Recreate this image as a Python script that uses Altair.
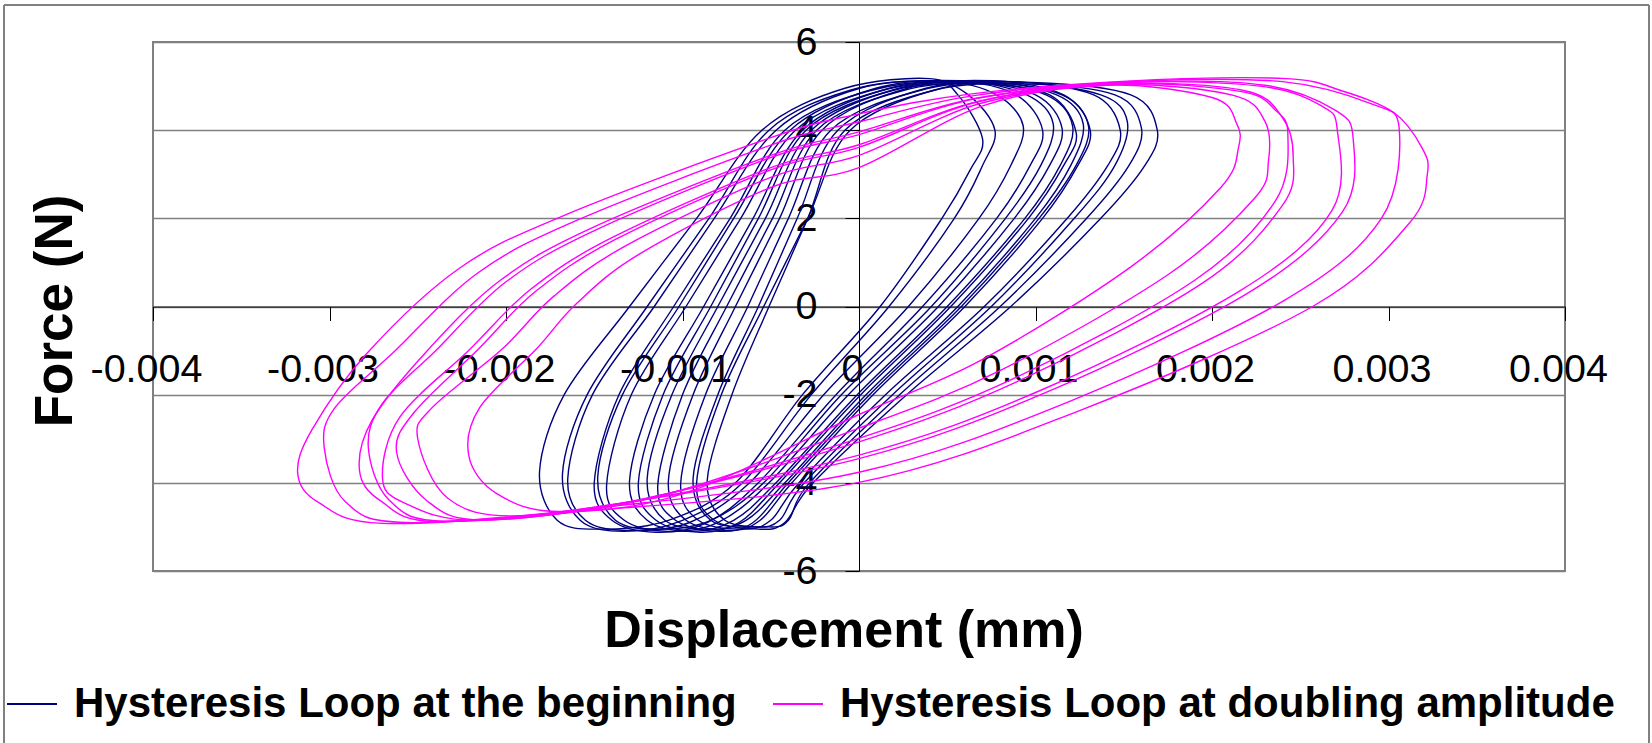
import altair as alt
import pandas as pd

SERIES = ["Hysteresis Loop at the beginning", "Hysteresis Loop at doubling amplitude"]
COLORS = ["#000080", "#FF00FF"]
X_TICKS = [-0.004, -0.003, -0.002, -0.001, 0, 0.001, 0.002, 0.003, 0.004]
Y_TICKS = [-6, -4, -2, 0, 2, 4, 6]
X_TITLE = "Displacement (mm)"
Y_TITLE = "Force (N)"

# Loop points. X in thousandths of a mm, Y in N.
B01_X = [0.70, 0.63, 0.47, 0.12, -0.32, -0.70, -1.08, -1.46, -1.71, -1.81, -1.67, -1.30, -0.92, -0.55, -0.08, 0.40, 0.56]
B01_Y = [3.8, 3.1, 2.0, 0.0, -2.0, -4.0, -4.85, -5.05, -4.85, -3.75, -2.0, 0.0, 2.0, 4.0, 4.95, 5.17, 4.8]
B02_X = [0.77, 0.70, 0.54, 0.17, -0.27, -0.66, -1.00, -1.33, -1.58, -1.68, -1.54, -1.20, -0.85, -0.51, -0.055, 0.40, 0.62]
B02_Y = [4.0, 3.2, 2.0, 0.0, -2.0, -4.0, -4.85, -5.1, -4.85, -3.8, -2.0, 0.0, 2.0, 4.0, 4.9, 5.12, 4.8]
B03_X = [0.93, 0.86, 0.68, 0.28, -0.20, -0.62, -0.96, -1.30, -1.55, -1.65, -1.51, -1.16, -0.82, -0.47, 0.005, 0.48, 0.78]
B03_Y = [4.1, 3.2, 2.0, 0.0, -2.0, -4.0, -4.9, -5.08, -4.85, -3.9, -2.0, 0.0, 2.0, 4.0, 4.95, 5.1, 4.8]
B04_X = [1.04, 0.97, 0.78, 0.36, -0.13, -0.57, -0.86, -1.15, -1.40, -1.50, -1.36, -1.05, -0.73, -0.42, 0.065, 0.55, 0.89]
B04_Y = [4.0, 3.2, 2.0, 0.0, -2.0, -4.0, -4.9, -5.12, -4.85, -4.0, -2.0, 0.0, 2.0, 4.0, 4.9, 5.1, 4.8]
B05_X = [1.10, 1.03, 0.83, 0.41, -0.10, -0.54, -0.84, -1.13, -1.38, -1.48, -1.34, -1.02, -0.71, -0.39, 0.095, 0.58, 0.95]
B05_Y = [4.15, 3.2, 2.0, 0.0, -2.0, -4.0, -4.85, -5.05, -4.85, -3.85, -2.0, 0.0, 2.0, 4.0, 4.95, 5.12, 4.8]
B06_X = [1.15, 1.08, 0.88, 0.45, -0.06, -0.51, -0.80, -1.08, -1.33, -1.43, -1.29, -0.98, -0.67, -0.36, 0.13, 0.62, 1.00]
B06_Y = [4.05, 3.2, 2.0, 0.0, -2.0, -4.0, -4.9, -5.1, -4.85, -4.05, -2.0, 0.0, 2.0, 4.0, 4.9, 5.08, 4.8]
B07_X = [1.21, 1.14, 0.94, 0.50, -0.01, -0.47, -0.71, -0.95, -1.20, -1.30, -1.16, -0.88, -0.60, -0.32, 0.17, 0.66, 1.06]
B07_Y = [4.1, 3.2, 2.0, 0.0, -2.0, -4.0, -4.85, -5.1, -4.85, -3.95, -2.0, 0.0, 2.0, 4.0, 4.95, 5.1, 4.8]
B08_X = [1.23, 1.16, 0.96, 0.52, 0.01, -0.45, -0.68, -0.90, -1.15, -1.25, -1.11, -0.84, -0.57, -0.30, 0.19, 0.68, 1.08]
B08_Y = [3.95, 3.2, 2.0, 0.0, -2.0, -4.0, -4.9, -5.12, -4.85, -4.0, -2.0, 0.0, 2.0, 4.0, 4.9, 5.05, 4.8]
B09_X = [1.27, 1.20, 1.00, 0.56, 0.04, -0.42, -0.64, -0.85, -1.10, -1.20, -1.06, -0.80, -0.53, -0.27, 0.225, 0.72, 1.12]
B09_Y = [4.15, 3.2, 2.0, 0.0, -2.0, -4.0, -4.85, -5.05, -4.85, -3.9, -2.0, 0.0, 2.0, 4.0, 4.95, 5.1, 4.8]
B10_X = [1.30, 1.23, 1.02, 0.58, 0.06, -0.40, -0.60, -0.79, -1.04, -1.14, -1.00, -0.75, -0.49, -0.24, 0.25, 0.74, 1.15]
B10_Y = [4.1, 3.2, 2.0, 0.0, -2.0, -4.0, -4.9, -5.1, -4.85, -4.05, -2.0, 0.0, 2.0, 4.0, 4.9, 5.08, 4.8]
B11_X = [1.31, 1.24, 1.04, 0.60, 0.08, -0.38, -0.56, -0.73, -0.98, -1.08, -0.94, -0.70, -0.45, -0.21, 0.275, 0.76, 1.16]
B11_Y = [4.0, 3.2, 2.0, 0.0, -2.0, -4.0, -4.85, -5.08, -4.85, -3.95, -2.0, 0.0, 2.0, 4.0, 4.95, 5.12, 4.8]
B12_X = [1.48, 1.41, 1.18, 0.71, 0.15, -0.34, -0.50, -0.66, -0.91, -1.01, -0.87, -0.63, -0.40, -0.16, 0.345, 0.85, 1.33]
B12_Y = [4.0, 3.2, 2.0, 0.0, -2.0, -4.0, -4.85, -5.05, -4.85, -4.0, -2.0, 0.0, 2.0, 4.0, 4.9, 5.1, 4.8]
B13_X = [1.52, 1.45, 1.22, 0.75, 0.19, -0.31, -0.45, -0.59, -0.84, -0.94, -0.80, -0.57, -0.35, -0.12, 0.38, 0.88, 1.37]
B13_Y = [4.2, 3.2, 2.0, 0.0, -2.0, -4.0, -4.85, -5.0, -4.85, -3.9, -2.0, 0.0, 2.0, 4.0, 4.95, 5.1, 4.8]
B14_X = [1.60, 1.53, 1.29, 0.80, 0.23, -0.28, -0.40, -0.51, -0.76, -0.86, -0.72, -0.51, -0.29, -0.08, 0.42, 0.92, 1.45]
B14_Y = [4.05, 3.2, 2.0, 0.0, -2.0, -4.0, -4.85, -5.0, -4.85, -3.95, -2.0, 0.0, 2.0, 4.0, 4.9, 5.05, 4.8]
B15_X = [1.69, 1.62, 1.37, 0.86, 0.27, -0.26, -0.42, -0.57, -0.82, -0.92, -0.78, -0.54, -0.29, -0.05, 0.465, 0.98, 1.54]
B15_Y = [4.0, 3.2, 2.0, 0.0, -2.0, -4.0, -4.9, -5.05, -4.85, -4.0, -2.0, 0.0, 2.0, 4.0, 4.95, 5.08, 4.8]

M1_X = [0, 0.70, 1.40, 2.00, 2.14, 2.15, 2.05, 1.54, 0.70, 0, -1.00, -1.70, -2.05, -2.21, -2.15, -1.82, -1.60, -1.24, -0.50]
M1_Y = [3.15, 4.55, 5.02, 4.74, 4.15, 3.60, 2.70, 0.90, -1.20, -2.45, -4.25, -4.65, -4.25, -3.40, -2.30, -0.93, 0.07, 1.20, 2.70]
M2_X = [0, 0.69, 1.44, 2.11, 2.30, 2.32, 2.24, 1.75, 0.81, 0, -1.12, -1.94, -2.33, -2.50, -2.42, -2.02, -1.73, -1.32, -0.50]
M2_Y = [3.43, 4.61, 5.03, 4.80, 4.20, 3.30, 2.45, 0.72, -1.43, -2.76, -4.29, -4.75, -4.35, -3.00, -2.30, -0.96, 0.23, 1.38, 2.93]
M3_X = [0, 0.68, 1.47, 2.16, 2.36, 2.43, 2.36, 1.90, 0.89, 0, -1.21, -2.12, -2.45, -2.62, -2.52, -2.16, -1.83, -1.38, -0.50]
M3_Y = [3.61, 4.65, 5.05, 4.88, 4.45, 3.90, 2.40, 0.59, -1.61, -2.99, -4.36, -4.84, -4.40, -3.30, -2.40, -0.98, 0.35, 1.52, 3.10]
M4_X = [0, 0.68, 1.48, 2.18, 2.40, 2.46, 2.40, 1.95, 0.92, 0, -1.24, -2.16, -2.58, -2.70, -2.60, -2.21, -1.86, -1.40, -0.50]
M4_Y = [3.67, 4.66, 5.05, 4.90, 4.28, 3.40, 2.30, 0.54, -1.66, -3.07, -4.38, -4.85, -4.45, -3.87, -2.50, -0.99, 0.39, 1.56, 3.15]
M5_X = [0, 0.67, 1.52, 2.27, 2.62, 2.71, 2.68, 2.16, 1.03, 0, -1.36, -2.34, -2.66, -2.78, -2.70, -2.40, -2.00, -1.49, -0.50]
M5_Y = [3.90, 4.72, 5.08, 5.00, 4.55, 4.00, 2.18, 0.36, -1.90, -3.37, -4.47, -4.87, -4.40, -3.20, -2.20, -1.01, 0.56, 1.74, 3.38]
M6_X = [0, 0.67, 1.53, 2.30, 2.70, 2.80, 2.74, 2.21, 1.06, 0, -1.39, -2.39, -2.71, -2.83, -2.76, -2.45, -2.03, -1.51, -0.50]
M6_Y = [3.96, 4.73, 5.08, 5.02, 4.45, 3.80, 2.15, 0.32, -1.95, -3.45, -4.49, -4.88, -4.41, -3.72, -2.59, -1.02, 0.60, 1.79, 3.43]
M7_X = [0, 0.66, 1.57, 2.40, 2.90, 3.06, 2.96, 2.41, 1.17, 0, -1.51, -2.57, -2.91, -3.03, -2.97, -2.64, -2.16, -1.59, -0.50]
M7_Y = [4.19, 4.79, 5.11, 5.10, 4.60, 4.06, 2.00, 0.14, -2.19, -3.76, -4.58, -4.90, -4.43, -3.20, -2.30, -1.05, 0.76, 1.97, 3.66]
M8_X = [0, 0.65, 1.60, 2.42, 2.73, 3.03, 3.19, 3.22, 3.12, 2.57, 1.25, 0, -1.60, -2.70, -3.06, -3.18, -3.10, -2.79, -2.26, -1.65, -0.50]
M8_Y = [4.37, 4.83, 5.13, 5.17, 4.90, 4.40, 3.60, 3.00, 1.90, 0.00, -2.36, -3.99, -4.65, -4.92, -4.45, -3.79, -2.80, -1.07, 0.88, 2.10, 3.83]

BLUE_LOOPS = [(B01_X, B01_Y), (B02_X, B02_Y), (B03_X, B03_Y), (B04_X, B04_Y), (B05_X, B05_Y),
              (B06_X, B06_Y), (B07_X, B07_Y), (B08_X, B08_Y), (B09_X, B09_Y), (B10_X, B10_Y),
              (B11_X, B11_Y), (B12_X, B12_Y), (B13_X, B13_Y), (B14_X, B14_Y), (B15_X, B15_Y)]
MAGENTA_LOOPS = [(M1_X, M1_Y), (M2_X, M2_Y), (M3_X, M3_Y), (M4_X, M4_Y),
                 (M5_X, M5_Y), (M6_X, M6_Y), (M7_X, M7_Y), (M8_X, M8_Y)]


def build(loops, series, tag):
    rows = []
    for li, (xs, ys) in enumerate(loops):
        for i, (x, y) in enumerate(zip(xs, ys)):
            rows.append({"series": series, "loop": f"{tag}{li}", "i": i, "x": x / 1000.0, "y": y})
    return pd.DataFrame(rows)


df_blue = build(BLUE_LOOPS, SERIES[0], "b")
df_mag = build(MAGENTA_LOOPS, SERIES[1], "m")

FONT = "Liberation Sans"
W, H = 1412, 529

xscale = alt.Scale(domain=[-0.004, 0.004], nice=False, zero=False)
yscale = alt.Scale(domain=[-6, 6], nice=False, zero=False)

xaxis = alt.Axis(
    values=X_TICKS, orient="bottom", offset=-H / 2, title=None, grid=False,
    domainColor="black", domainWidth=1, tickColor="black", tickSize=14, tickWidth=1,
    labelFont=FONT, labelFontSize=39.5, labelColor="black", labelPadding=30,
    labelOffset=-7, labelFlush=False, labelOverlap=False,
    labelExpr="datum.value < 0 ? '-' + format(-datum.value, '.3~f') : format(datum.value, '.3~f')",
)
yaxis = alt.Axis(
    values=Y_TICKS, orient="left", offset=-W / 2, title=None, grid=True,
    gridColor="#808080", gridWidth=1.5,
    domainColor="black", domainWidth=1, tickColor="black", tickSize=14, tickWidth=1,
    labelFont=FONT, labelFontSize=39.5, labelColor="black", labelPadding=28,
    labelFlush=False, labelOverlap=False,
    labelExpr="datum.value < 0 ? '-' + format(-datum.value, 'd') : format(datum.value, 'd')",
)

color = alt.Color(
    "series:N",
    scale=alt.Scale(domain=SERIES, range=COLORS),
    legend=alt.Legend(
        orient="none", legendX=-147, legendY=636, direction="horizontal", title=None,
        symbolType="stroke", symbolSize=2500, symbolStrokeWidth=2,
        labelFont=FONT, labelFontSize=42, labelFontWeight="bold", labelColor="black",
        labelLimit=3000, columnPadding=32, labelOffset=16, padding=0,
    ),
)


def loops_layer(df):
    return alt.Chart(df).mark_line(interpolate="cardinal-closed", strokeWidth=1.4).encode(
        x=alt.X("x:Q", scale=xscale, axis=xaxis),
        y=alt.Y("y:Q", scale=yscale, axis=yaxis),
        color=color,
        detail="loop:N",
        order="i:Q",
    )


blue = loops_layer(df_blue)
mag = loops_layer(df_mag)

one = pd.DataFrame({"t": [X_TITLE], "u": [Y_TITLE]})
xtitle = alt.Chart(one).mark_text(
    font=FONT, fontSize=52, fontWeight="bold", color="black", align="center", baseline="alphabetic"
).encode(x=alt.value(691), y=alt.value(605), text="t:N")
ytitle = alt.Chart(one).mark_text(
    font=FONT, fontSize=53, fontWeight="bold", color="black", align="center", baseline="middle", angle=270
).encode(x=alt.value(-97), y=alt.value(269), text="u:N")

border_top = alt.Chart(one).mark_rule(color="#808080", strokeWidth=2).encode(
    x=alt.value(-149), x2=alt.value(1496), y=alt.value(-37))
border_left = alt.Chart(one).mark_rule(color="#808080", strokeWidth=2).encode(
    x=alt.value(-149), y=alt.value(-37), y2=alt.value(705))
border_right = alt.Chart(one).mark_rule(color="#808080", strokeWidth=2).encode(
    x=alt.value(1496), y=alt.value(-37), y2=alt.value(705))

chart = alt.layer(blue, mag, xtitle, ytitle, border_top, border_left, border_right).properties(
    width=W, height=H,
    autosize=alt.AutoSizeParams(type="none"),
    padding={"left": 153, "top": 42, "right": 87, "bottom": 172},
    background="white",
).configure_view(stroke="#808080", strokeWidth=2)

chart.save("out.html", embed_options={"renderer": "svg", "actions": False})
